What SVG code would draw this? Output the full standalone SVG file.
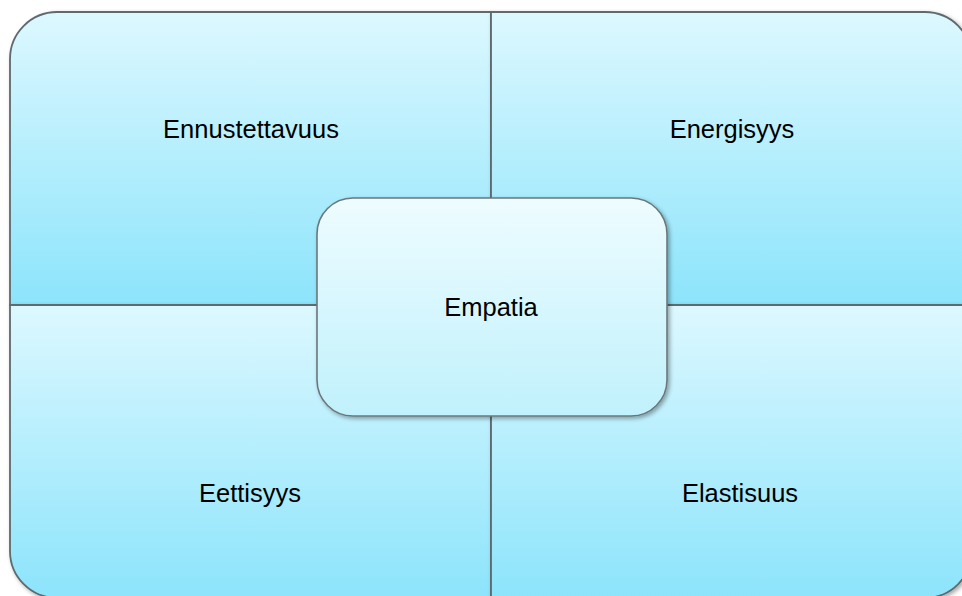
<svg xmlns="http://www.w3.org/2000/svg" width="962" height="596" viewBox="0 0 962 596">
<style>
.q{stroke:#5e6a6e;stroke-width:1.8;filter:url(#sh)}
.c{stroke:#6b787c;stroke-width:1.6;filter:url(#sh)}
.t{font-family:"Liberation Sans",Arial,sans-serif;font-size:25.5px;fill:#000;text-anchor:middle}
</style>
<defs>
<linearGradient id="gt" x1="0" y1="12" x2="0" y2="305" gradientUnits="userSpaceOnUse">
<stop offset="0" stop-color="#ddf8ff"/><stop offset="1" stop-color="#8ce4fb"/>
</linearGradient>
<linearGradient id="gb" x1="0" y1="305" x2="0" y2="598" gradientUnits="userSpaceOnUse">
<stop offset="0" stop-color="#ddf8ff"/><stop offset="1" stop-color="#8ce4fb"/>
</linearGradient>
<linearGradient id="gc" x1="0" y1="0" x2="0" y2="1">
<stop offset="0" stop-color="#eefcff"/><stop offset="1" stop-color="#c0f1fc"/>
</linearGradient>
<filter id="sh" x="-10%" y="-10%" width="120%" height="120%">
<feDropShadow dx="2" dy="2" stdDeviation="2" flood-color="#000" flood-opacity="0.35"/>
</filter>
</defs>
<g id="q-ennustettavuus">
<path class="q" fill="url(#gt)" d="M10,305 V59 A47,47 0 0 1 57,12 H491 V305 Z"/>
<text class="t" x="251" y="138">Ennustettavuus</text>
</g>
<g id="q-energisyys">
<path class="q" fill="url(#gt)" d="M491,12 H925 A47,47 0 0 1 972,59 V305 H491 Z"/>
<text class="t" x="732" y="138">Energisyys</text>
</g>
<g id="q-eettisyys">
<path class="q" fill="url(#gb)" d="M10,305 H491 V598 H57 A47,47 0 0 1 10,551 Z"/>
<text class="t" x="250" y="502">Eettisyys</text>
</g>
<g id="q-elastisuus">
<path class="q" fill="url(#gb)" d="M491,305 H972 V551 A47,47 0 0 1 925,598 H491 Z"/>
<text class="t" x="740" y="502">Elastisuus</text>
</g>
<g id="connectors"></g>
<g id="empatia">
<rect class="c" fill="url(#gc)" x="317" y="198" width="350" height="218" rx="36" ry="36"/>
<text class="t" x="491" y="316">Empatia</text>
</g>
</svg>
